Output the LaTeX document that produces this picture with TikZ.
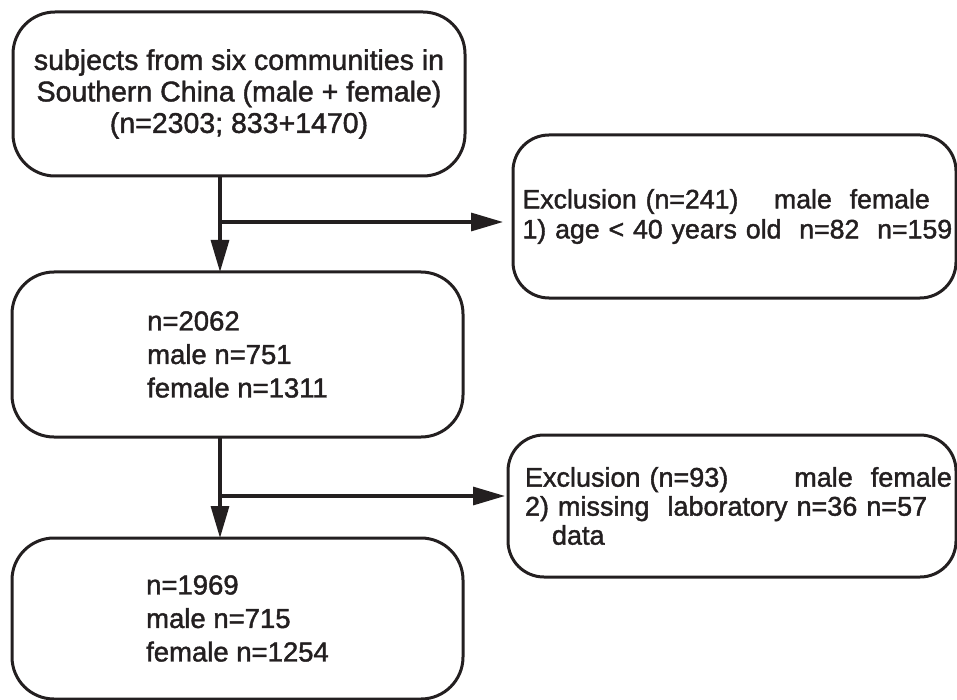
\documentclass[tikz,border=0pt]{standalone}
\usepackage{fontspec}
\setmainfont{Liberation Sans}[FakeBold=1.5]
\usetikzlibrary{arrows.meta}
\definecolor{ink}{HTML}{231F20}
\begin{document}
\begin{tikzpicture}[x=1pt,y=-1pt,
  every node/.style={text=ink},
  box/.style={draw=ink, line width=3pt, rounded corners=42pt, inner sep=0pt, outer sep=0pt, align=left},
  exbox/.style={draw=ink, line width=3pt, rounded corners=36pt, outer sep=0pt, inner ysep=0pt, align=left},
  conn/.style={draw=ink, line width=3.2pt},
  arr/.style={conn, -{Triangle[length=32pt,width=18pt]}}]
\useasboundingbox (0,0) rectangle (957,700);

\node[box, align=center, minimum width=452pt, minimum height=164pt,
      font=\fontsize{28.5}{31.5}\selectfont] (b1) at (239,94)
  {subjects from six communities in\\Southern China (male + female)\\(n=2303; 833+1470)};

\node[box, minimum width=451pt, minimum height=165pt,
      font=\fontsize{27.5}{33.5}\selectfont] (b2) at (237.5,354.5)
  {n=2062\\male n=751\\female n=1311};

\node[box, minimum width=451pt, minimum height=161pt,
      font=\fontsize{27.5}{33.5}\selectfont] (b3) at (237.5,618.5)
  {n=1969\\male n=715\\female n=1254};

\node[exbox, text width=424pt, inner xsep=9.5pt, minimum height=163pt,
      font=\fontsize{26.7}{30}\selectfont] (r1) at (734.5,216.5)
  {\mbox{Exclusion (n=241)\ \ \ \ male\ \ female}\\\mbox{1) age < 40 years old\ \ n=82\ \ n=159}};

\node[exbox, text width=414pt, inner xsep=17pt, minimum height=142pt,
      font=\fontsize{27}{29}\selectfont] (r2) at (732,506)
  {\mbox{Exclusion (n=93)\hspace{66pt}male\ \ female}\\\mbox{2) missing\ \ laboratory n=36 n=57}\\\mbox{\ \ \ data}};

\coordinate (j1) at (220,222);
\coordinate (j2) at (220,496);
\draw[arr] (j1 |- b1.south) -- (j1 |- b2.north);
\draw[arr, shorten >=10pt] (j1) -- (j1 -| r1.west);
\draw[arr] (j2 |- b2.south) -- (j2 |- b3.north);
\draw[arr, shorten >=3pt] (j2) -- (j2 -| r2.west);
\end{tikzpicture}
\end{document}
